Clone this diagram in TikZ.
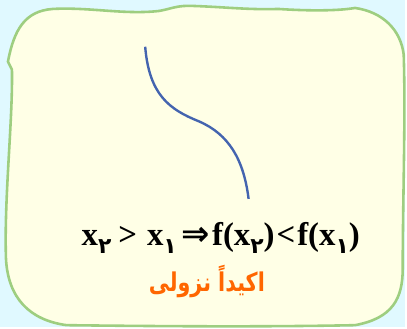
\documentclass[tikz,border=0pt]{standalone}
\usepackage{fontspec}
\setmainfont{Liberation Serif}
\newfontfamily\arabicfont[Script=Arabic]{DejaVu Sans}
\newfontfamily\arrowfont{DejaVu Sans}
\TeXXeTstate=1
\usepackage{xcolor}
\usetikzlibrary{calc}
\definecolor{bgcyan}{RGB}{224,249,255}
\definecolor{cardfill}{RGB}{255,255,230}
\definecolor{cardline}{RGB}{158,206,128}
\definecolor{curveblue}{RGB}{68,100,175}
\definecolor{labelorange}{RGB}{255,102,0}
% Persian digit as a lowered subscript
\newcommand{\pdig}[1]{\raisebox{-8pt}{\fontsize{22}{22}\selectfont\arabicfont #1}}

\begin{document}
\begin{tikzpicture}[x=1pt,y=-1pt]
  % Light cyan background, fixes the bounding box
  \fill[bgcyan] (0,0) rectangle (407,329);
  % Wavy card
  \filldraw[fill=cardfill, draw=cardline, line width=2.6pt, line join=round]
    (53,9) .. controls (90,7) and (125,15) .. (160,11)
    .. controls (172,9) and (178,5) .. (195,6)
    .. controls (225,7) and (250,10) .. (280,9)
    .. controls (310,11) and (340,11) .. (357,8)
    .. controls (385,12) and (403,30) .. (406,55)
    .. controls (408,120) and (405,200) .. (405,270)
    .. controls (405,300) and (395,320) .. (357,327)
    .. controls (260,329) and (150,328) .. (67,327)
    .. controls (30,322) and (8,300) .. (6,260)
    .. controls (4,200) and (13,120) .. (12,70)
    -- (8,62)
    .. controls (14,30) and (25,11) .. (53,9) -- cycle;
  % Decreasing curve
  \draw[curveblue, line width=2.4pt]
    (146,47) .. controls (150,95) and (170,110) .. (200,122)
    .. controls (230,135) and (245,160) .. (250,200);
  % Labels
  \node[anchor=base, inner sep=0pt] (rule) at (222,247)
    {\fontsize{33}{36}\selectfont\bfseries
     x\pdig{۲}\hspace{7pt}>\hspace{10pt}x\pdig{۱}\hspace{5pt}{\arrowfont\fontsize{34}{36}\selectfont ⇒}\hspace{2pt}f(x\pdig{۲})\hspace{2pt}<\hspace{2pt}f(x\pdig{۱})};
  \node[labelorange, inner sep=0pt] (kind) at (208,283)
    {\scalebox{0.8}[1]{\fontsize{26}{30}\selectfont\arabicfont\bfseries\beginR اکیداً نزولی\endR}};
\end{tikzpicture}
\end{document}
